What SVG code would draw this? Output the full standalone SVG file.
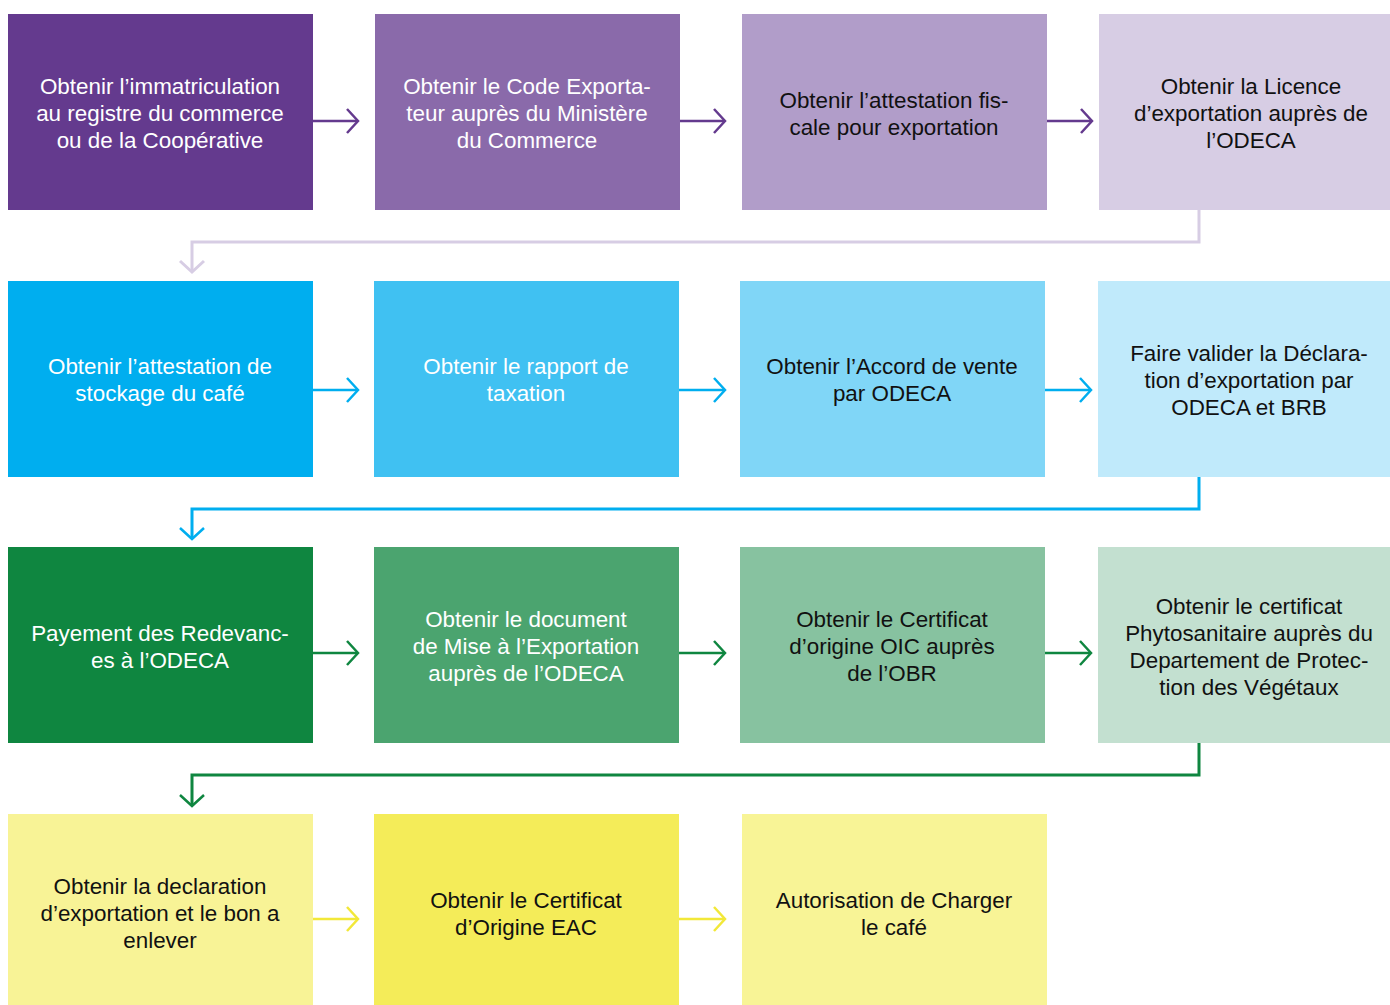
<svg xmlns="http://www.w3.org/2000/svg" width="1390" height="1005" viewBox="0 0 1390 1005">
  <style>
    text { font-family: "Liberation Sans", Arial, sans-serif; font-size: 22.4px; text-anchor: middle; }
    .lt { fill: #ffffff; }
    .dk { fill: #111111; }
    .ln { fill: none; stroke-width: 3; }
    .hl { fill: none; stroke-width: 2.5; }
  </style>
  <defs>
    <marker id="m-purple" markerUnits="userSpaceOnUse" markerWidth="24" markerHeight="24" refX="12" refY="12" orient="auto" overflow="visible">
      <path d="M1,0 L12,12 L1,24" fill="none" stroke="#643a8e" stroke-width="2.5"/>
    </marker>
    <marker id="m-lav" markerUnits="userSpaceOnUse" markerWidth="24" markerHeight="24" refX="12" refY="12" orient="auto" overflow="visible">
      <path d="M1,0 L12,12 L1,24" fill="none" stroke="#d7cde4" stroke-width="3"/>
    </marker>
    <marker id="m-blue" markerUnits="userSpaceOnUse" markerWidth="24" markerHeight="24" refX="12" refY="12" orient="auto" overflow="visible">
      <path d="M1,0 L12,12 L1,24" fill="none" stroke="#00aeef" stroke-width="2.5"/>
    </marker>
    <marker id="m-green" markerUnits="userSpaceOnUse" markerWidth="24" markerHeight="24" refX="12" refY="12" orient="auto" overflow="visible">
      <path d="M1,0 L12,12 L1,24" fill="none" stroke="#0f8640" stroke-width="2.5"/>
    </marker>
    <marker id="m-yellow" markerUnits="userSpaceOnUse" markerWidth="24" markerHeight="24" refX="12" refY="12" orient="auto" overflow="visible">
      <path d="M1,0 L12,12 L1,24" fill="none" stroke="#f2e839" stroke-width="2.5"/>
    </marker>
  </defs>

  <rect width="1390" height="1005" fill="#ffffff"/>

  <!-- Row 1 -->
  <g id="n1">
    <rect x="8" y="14" width="305" height="196" fill="#643a8e"/>
    <text class="lt" x="160" y="94">Obtenir l’immatriculation</text>
    <text class="lt" x="160" y="121">au registre du commerce</text>
    <text class="lt" x="160" y="148">ou de la Coopérative</text>
  </g>
  <g id="n2">
    <rect x="375" y="14" width="305" height="196" fill="#8a6aaa"/>
    <text class="lt" x="527" y="94">Obtenir le Code Exporta-</text>
    <text class="lt" x="527" y="121">teur auprès du Ministère</text>
    <text class="lt" x="527" y="148">du Commerce</text>
  </g>
  <g id="n3">
    <rect x="742" y="14" width="305" height="196" fill="#b19dc9"/>
    <text class="dk" x="894" y="108">Obtenir l’attestation fis-</text>
    <text class="dk" x="894" y="135">cale pour exportation</text>
  </g>
  <g id="n4">
    <rect x="1099" y="14" width="291" height="196" fill="#d7cde4"/>
    <text class="dk" x="1251" y="94">Obtenir la Licence</text>
    <text class="dk" x="1251" y="121">d’exportation auprès de</text>
    <text class="dk" x="1251" y="148">l’ODECA</text>
  </g>

  <!-- Row 2 -->
  <g id="n5">
    <rect x="8" y="281" width="305" height="196" fill="#00aeef"/>
    <text class="lt" x="160" y="374">Obtenir l’attestation de</text>
    <text class="lt" x="160" y="401">stockage du café</text>
  </g>
  <g id="n6">
    <rect x="374" y="281" width="305" height="196" fill="#40c1f2"/>
    <text class="lt" x="526" y="374">Obtenir le rapport de</text>
    <text class="lt" x="526" y="401">taxation</text>
  </g>
  <g id="n7">
    <rect x="740" y="281" width="305" height="196" fill="#80d6f7"/>
    <text class="dk" x="892" y="374">Obtenir l’Accord de vente</text>
    <text class="dk" x="892" y="401">par ODECA</text>
  </g>
  <g id="n8">
    <rect x="1098" y="281" width="292" height="196" fill="#c0eafb"/>
    <text class="dk" x="1249" y="361">Faire valider la Déclara-</text>
    <text class="dk" x="1249" y="388">tion d’exportation par</text>
    <text class="dk" x="1249" y="415">ODECA et BRB</text>
  </g>

  <!-- Row 3 -->
  <g id="n9">
    <rect x="8" y="547" width="305" height="196" fill="#0f8640"/>
    <text class="lt" x="160" y="641">Payement des Redevanc-</text>
    <text class="lt" x="160" y="668">es à l’ODECA</text>
  </g>
  <g id="n10">
    <rect x="374" y="547" width="305" height="196" fill="#4ba46f"/>
    <text class="lt" x="526" y="627">Obtenir le document</text>
    <text class="lt" x="526" y="654">de Mise à l’Exportation</text>
    <text class="lt" x="526" y="681">auprès de l’ODECA</text>
  </g>
  <g id="n11">
    <rect x="740" y="547" width="305" height="196" fill="#87c2a0"/>
    <text class="dk" x="892" y="627">Obtenir le Certificat</text>
    <text class="dk" x="892" y="654">d’origine OIC auprès</text>
    <text class="dk" x="892" y="681">de l’OBR</text>
  </g>
  <g id="n12">
    <rect x="1098" y="547" width="292" height="196" fill="#c3e0d0"/>
    <text class="dk" x="1249" y="614">Obtenir le certificat</text>
    <text class="dk" x="1249" y="641">Phytosanitaire auprès du</text>
    <text class="dk" x="1249" y="668">Departement de Protec-</text>
    <text class="dk" x="1249" y="695">tion des Végétaux</text>
  </g>

  <!-- Row 4 -->
  <g id="n13">
    <rect x="8" y="814" width="305" height="191" fill="#f8f396"/>
    <text class="dk" x="160" y="894">Obtenir la declaration</text>
    <text class="dk" x="160" y="921">d’exportation et le bon a</text>
    <text class="dk" x="160" y="948">enlever</text>
  </g>
  <g id="n14">
    <rect x="374" y="814" width="305" height="191" fill="#f4ec59"/>
    <text class="dk" x="526" y="908">Obtenir le Certificat</text>
    <text class="dk" x="526" y="935">d’Origine EAC</text>
  </g>
  <g id="n15">
    <rect x="742" y="814" width="305" height="191" fill="#f8f496"/>
    <text class="dk" x="894" y="908">Autorisation de Charger</text>
    <text class="dk" x="894" y="935">le café</text>
  </g>

  <!-- Connectors -->
  <g id="connectors">
    <path class="hl" d="M313,121 H358" stroke="#643a8e" marker-end="url(#m-purple)"/>
    <path class="hl" d="M680,121 H725" stroke="#643a8e" marker-end="url(#m-purple)"/>
    <path class="hl" d="M1047,121 H1092" stroke="#643a8e" marker-end="url(#m-purple)"/>
    <path class="ln" d="M1199,210 V242 H192 V272" stroke="#d7cde4" marker-end="url(#m-lav)"/>

    <path class="hl" d="M313,390 H358" stroke="#00aeef" marker-end="url(#m-blue)"/>
    <path class="hl" d="M679,390 H725" stroke="#00aeef" marker-end="url(#m-blue)"/>
    <path class="hl" d="M1045,390 H1091" stroke="#00aeef" marker-end="url(#m-blue)"/>
    <path class="ln" d="M1199,477 V509 H192 V539" stroke="#00aeef" marker-end="url(#m-blue)"/>

    <path class="hl" d="M313,653 H358" stroke="#0f8640" marker-end="url(#m-green)"/>
    <path class="hl" d="M679,653 H725" stroke="#0f8640" marker-end="url(#m-green)"/>
    <path class="hl" d="M1045,653 H1091" stroke="#0f8640" marker-end="url(#m-green)"/>
    <path class="ln" d="M1199,743 V775 H192 V806" stroke="#0f8640" marker-end="url(#m-green)"/>

    <path class="hl" d="M313,919 H358" stroke="#f2e839" marker-end="url(#m-yellow)"/>
    <path class="hl" d="M679,919 H725" stroke="#f2e839" marker-end="url(#m-yellow)"/>
  </g>
</svg>
